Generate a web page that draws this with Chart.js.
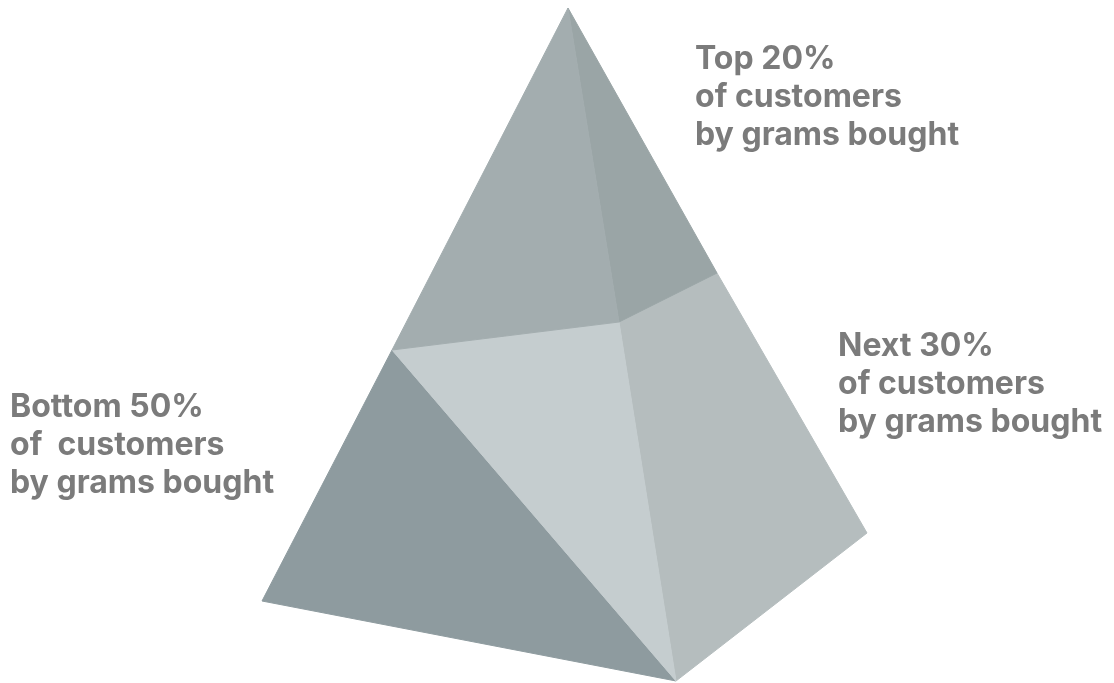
<!DOCTYPE html>
<html lang="en">
<head>
  <meta charset="UTF-8" />
  <title>Customer pyramid</title>
  <script src="https://cdn.jsdelivr.net/npm/chart.js"></script>
  <style>
    html, body { margin: 0; padding: 0; background: #ffffff; }
    #wrap { position: relative; width: 1114px; height: 683px; }
  </style>
</head>
<body>
  <div id="wrap">
    <canvas id="pyramid" width="1114" height="683"></canvas>
  </div>
<script>
// face outlines (x, y in picture units, y grows downward)
const topLeftX = [568, 392, 619, 568];
const topLeftY = [8, 350, 322, 8];
const topRightX = [568, 619, 717, 568];
const topRightY = [8, 322, 273, 8];
const middleX = [392, 619, 676, 392];
const middleY = [350, 322, 681, 350];
const rightX = [619, 717, 867, 676, 619];
const rightY = [322, 273, 533, 681, 322];
const bottomX = [392, 676, 262, 392];
const bottomY = [350, 681, 601, 350];

const faceColors = ['#a3adaf', '#9aa5a6', '#c5cdcf', '#b5bdbe', '#8e9b9f'];

// labels
const labelLines = [
  ['Top 20%', 'of customers', 'by grams bought'],
  ['Next 30%', 'of customers', 'by grams bought'],
  ['Bottom 50%', 'of  customers', 'by grams bought']
];
const labelX = [695, 838, 10];
const labelY = [69, 356, 417];

function pts(xs, ys) {
  let out = [];
  for (let i = 0; i < xs.length; i++) {
    out.push({ x: xs[i], y: ys[i] });
  }
  return out;
}

function face(xs, ys, color) {
  return {
    data: pts(xs, ys),
    showLine: true,
    fill: 'shape',
    backgroundColor: color,
    borderColor: color,
    borderWidth: 1,
    pointRadius: 0,
    tension: 0
  };
}

const labelPlugin = {
  id: 'labels',
  afterDatasetsDraw(chart) {
    const ctx = chart.ctx;
    const sx = chart.scales.x;
    const sy = chart.scales.y;
    ctx.save();
    ctx.fillStyle = '#7b7b7b';
    ctx.font = 'bold 32px Inter, "Open Sans", sans-serif';
    ctx.textBaseline = 'alphabetic';
    ctx.textAlign = 'left';
    for (let i = 0; i < labelLines.length; i++) {
      for (let j = 0; j < labelLines[i].length; j++) {
        ctx.fillText(labelLines[i][j], sx.getPixelForValue(labelX[i]), sy.getPixelForValue(labelY[i] + j * 38));
      }
    }
    ctx.restore();
  }
};

const config = {
  type: 'scatter',
  data: {
    datasets: [
      face(topLeftX, topLeftY, faceColors[0]),
      face(topRightX, topRightY, faceColors[1]),
      face(middleX, middleY, faceColors[2]),
      face(rightX, rightY, faceColors[3]),
      face(bottomX, bottomY, faceColors[4])
    ]
  },
  options: {
    responsive: false,
    animation: false,
    layout: { padding: 0 },
    plugins: { legend: { display: false }, tooltip: { enabled: false } },
    scales: {
      x: { type: 'linear', min: 0, max: 1114, display: false },
      y: { type: 'linear', min: 0, max: 683, reverse: true, display: false }
    }
  },
  plugins: [labelPlugin]
};

let myChart = new Chart(document.getElementById('pyramid'), config);
</script>
</body>
</html>
